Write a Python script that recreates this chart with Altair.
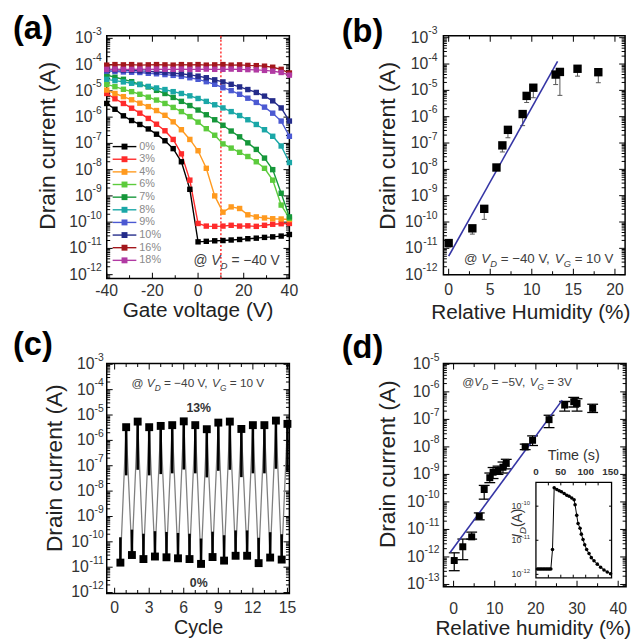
import math
import altair as alt
import pandas as pd

FONT = "Liberation Sans"
LABEL = "#333333"
TXT = "#404040"

# ---------------- (a) transfer curves: log10 of drain current ----------------
gate_voltage = [-40, -36.4, -32.7, -29.1, -25.5, -21.8, -18.2, -14.5, -10.9, -7.3, -3.6, 0,
                3.6, 7.3, 10.9, 14.5, 18.2, 21.8, 25.5, 29.1, 32.7, 36.4, 40]
rh_names = ["0%", "3%", "4%", "6%", "7%", "8%", "9%", "10%", "16%", "18%"]
rh_colors = ["#000000", "#ff2b2b", "#ff9a1f", "#5ccb3c", "#15973a", "#1aa7a7",
             "#4b59d2", "#242c8a", "#a3171c", "#b13aa3"]
log_id_00 = [-5.48, -5.70, -5.95, -6.13, -6.28, -6.45, -6.65, -6.90, -7.20, -7.70, -8.75, -10.75,
             -10.73, -10.71, -10.70, -10.68, -10.66, -10.63, -10.61, -10.58, -10.56, -10.53, -10.47]
log_id_03 = [-5.10, -5.30, -5.48, -5.66, -5.85, -6.05, -6.27, -6.52, -6.85, -7.40, -8.40, -10.05,
             -10.15, -10.16, -10.15, -10.12, -10.15, -10.14, -10.16, -10.12, -10.08, -10.06, -10.05]
log_id_04 = [-4.97, -5.10, -5.22, -5.34, -5.47, -5.60, -5.75, -5.93, -6.18, -6.48, -6.85, -7.28,
             -7.95, -9.00, -9.62, -9.42, -9.48, -9.72, -9.80, -9.84, -9.87, -9.88, -9.90]
log_id_06 = [-4.75, -4.84, -4.94, -5.03, -5.13, -5.24, -5.35, -5.48, -5.63, -5.79, -5.98, -6.19,
             -6.44, -6.69, -7.02, -7.18, -7.34, -7.50, -7.70, -7.95, -8.40, -9.35, -9.85]
log_id_07 = [-4.40, -4.48, -4.56, -4.65, -4.75, -4.85, -4.98, -5.10, -5.25, -5.40, -5.56, -5.73,
             -5.91, -6.10, -6.31, -6.53, -6.75, -6.98, -7.23, -7.56, -8.00, -8.90, -9.80]
log_id_08 = [-4.56, -4.61, -4.66, -4.71, -4.76, -4.83, -4.89, -4.95, -5.03, -5.10, -5.19, -5.29,
             -5.40, -5.53, -5.65, -5.79, -5.94, -6.10, -6.28, -6.48, -6.73, -7.10, -7.73]
log_id_09 = [-4.25, -4.26, -4.28, -4.29, -4.30, -4.33, -4.35, -4.38, -4.41, -4.45, -4.50, -4.56,
             -4.65, -4.75, -4.88, -4.99, -5.13, -5.28, -5.44, -5.62, -5.85, -6.15, -6.73]
log_id_10 = [-4.19, -4.20, -4.21, -4.22, -4.24, -4.25, -4.28, -4.30, -4.33, -4.35, -4.39, -4.44,
             -4.50, -4.58, -4.66, -4.75, -4.85, -4.95, -5.06, -5.20, -5.38, -5.65, -6.15]
log_id_16 = [-4.02, -4.00, -4.01, -4.00, -4.02, -4.01, -4.00, -4.01, -4.02, -4.00, -4.01, -4.00,
             -4.02, -4.01, -4.00, -4.02, -4.01, -4.03, -4.04, -4.06, -4.10, -4.18, -4.32]
log_id_18 = [-4.18, -4.17, -4.18, -4.18, -4.17, -4.18, -4.17, -4.18, -4.18, -4.17, -4.18, -4.18,
             -4.17, -4.18, -4.18, -4.17, -4.18, -4.19, -4.20, -4.22, -4.25, -4.30, -4.40]
marked_gate_voltage = [10]

# ---------------- (b) current vs humidity ----------------
rh_b = [0.0, 2.85, 4.28, 5.75, 6.46, 7.13, 8.9, 9.38, 10.18, 12.87, 13.38, 15.5, 18.0]
log_b = [-10.80, -10.24, -9.50, -7.93, -7.09, -6.50, -5.90, -5.21, -4.90, -4.40, -4.30, -4.18, -4.31]
log_b_low = [-10.95, -10.46, -9.90, -8.00, -7.34, -6.80, -6.34, -5.46, -5.28, -4.78, -5.19, -4.46, -4.71]
fit_b_x = [0.0, 13.1]
fit_b_log = [-11.3, -3.9]

# ---------------- (c) cycling ----------------
cycle_on = [1, 2, 3, 4, 5, 6, 7, 8, 9, 10, 11, 12, 13, 14, 15]
log_on = [-5.48, -5.26, -5.48, -5.43, -5.40, -5.25, -5.40, -5.56, -5.30, -5.26, -5.55, -5.40, -5.40, -5.22, -5.35]
cycle_off = [0.5, 1.5, 2.5, 3.5, 4.5, 5.5, 6.5, 7.5, 8.5, 9.5, 10.5, 11.5, 12.5, 13.5, 14.5]
log_off = [-10.82, -10.52, -10.68, -10.58, -10.61, -10.65, -10.68, -10.87, -10.60, -10.74, -10.55, -10.55, -10.84, -10.62, -10.70]

# ---------------- (d) current vs humidity at low bias ----------------
rh_d = [0.16, 2.24, 4.4, 6.24, 7.44, 8.8, 9.6, 10.8, 12.0, 12.8, 17.4, 19.2, 23.2, 27.0, 29.2, 30.0, 33.8]
log_d = [-12.13, -11.63, -11.27, -10.52, -9.55, -9.12, -8.92, -8.86, -8.74, -8.60, -8.00, -7.76, -7.01, -6.48, -6.36, -6.42, -6.60]
log_d_low = [-12.5, -12.1, -11.35, -10.65, -9.9, -9.3, -9.15, -9.0, -8.95, -8.8, -8.1, -7.95, -7.3, -6.7, -6.55, -6.7, -6.75]
log_d_high = [-11.85, -11.35, -11.1, -10.4, -9.4, -8.95, -8.75, -8.7, -8.55, -8.45, -7.9, -7.6, -6.85, -6.35, -6.2, -6.25, -6.45]
fit_d_x = [-0.8, 26.4]
fit_d_log = [-11.83, -6.3]

# inset: response transient
time_s = [3, 6, 9, 12, 15, 18, 21, 24, 27, 30, 33.3, 36.7, 42, 46.7, 51.3, 56.7, 62, 66.7, 72, 76.7,
          78.7, 82, 84.7, 88.7, 91.3, 94.7, 98, 102, 106.7, 111.3, 116.7, 123.3, 130, 136.7, 143.3, 150]
log_inset = [-11.84, -11.84, -11.84, -11.84, -11.84, -11.84, -11.84, -11.84, -11.84, -11.84, -11.27,
             -9.46, -9.51, -9.55, -9.58, -9.63, -9.68, -9.71, -9.76, -9.81, -9.96, -10.27, -10.51,
             -10.65, -10.82, -10.98, -11.13, -11.27, -11.39, -11.51, -11.60, -11.70, -11.79, -11.87,
             -11.93, -11.98]

# ---------------- helpers ----------------
AW = {" ": 0.278, "@": 1.015, "V": 0.667, "D": 0.722, "G": 0.778, "=": 0.584, "−": 0.584,
      "-": 0.333, ",": 0.278, "%": 0.889, "I": 0.278, "(": 0.333, ")": 0.333, "A": 0.667}


def tw(s):
    return sum(AW.get(c, 0.556) for c in s)


def decade_exps(lo, hi):
    return list(range(math.ceil(lo - 1e-9), math.floor(hi + 1e-9) + 1))


def log_minor(lo, hi):
    out = []
    for n in range(math.floor(lo), math.ceil(hi) + 1):
        for k in range(2, 10):
            v = k * 10.0 ** n
            if lo < math.log10(v) < hi:
                out.append(v)
    return out


ONE = pd.DataFrame({"k": [0]})


def ptext(txt, x, y, size, angle=None, weight="normal", align="center", baseline="middle", color="#222222",
          style="normal"):
    kw = dict(text=txt, align=align, baseline=baseline, font=FONT, fontSize=size, fontWeight=weight,
              color=color, fontStyle=style)
    if angle is not None:
        kw["angle"] = angle
    return alt.Chart(ONE).mark_text(**kw).encode(x=alt.value(x), y=alt.value(y))


def ylabels(ys, exps, xr, fs=16, fe=10.5, rise=6.5):
    layers = []
    d = pd.DataFrame({"v": [10.0 ** e for e in exps], "e": [str(e) for e in exps]})
    layers.append(alt.Chart(d).mark_text(align="right", baseline="middle", fontSize=fe, font=FONT, color=LABEL,
                                         dy=-rise).encode(
        y=alt.Y("v:Q", scale=ys, axis=None), x=alt.value(xr), text="e:N"))
    for nd in (1, 2):
        sub = [e for e in exps if len(str(-e)) == nd]
        if not sub:
            continue
        w = tw("-" + "0" * nd) * fe
        d2 = pd.DataFrame({"v": [10.0 ** e for e in sub]})
        layers.append(alt.Chart(d2).mark_text(text="10", align="right", baseline="middle", fontSize=fs, font=FONT,
                                              color=LABEL).encode(
            y=alt.Y("v:Q", scale=ys, axis=None), x=alt.value(xr - w)))
    return layers


def xlabels(xs, vals, yc, fs=16, weight="normal"):
    d = pd.DataFrame({"v": vals, "t": [str(int(v)) if float(v).is_integer() else str(v) for v in vals]})
    return alt.Chart(d).mark_text(align="center", baseline="middle", fontSize=fs, font=FONT, color=LABEL,
                                  fontWeight=weight).encode(
        x=alt.X("v:Q", scale=xs, axis=None), y=alt.value(yc), text="t:N")


def frame_ticks(xs, ys, xmaj, xmin, ymaj, ymin, w, h):
    out = []
    for vals, L in ((ymaj, 6), (ymin, 3.5)):
        d = pd.DataFrame({"v": vals})
        for xp in (L / 2, w - L / 2):
            out.append(alt.Chart(d).mark_tick(orient="horizontal", size=L, thickness=1, color="black", opacity=1)
                       .encode(y=alt.Y("v:Q", scale=ys, axis=None), x=alt.value(xp)))
    for vals, L in ((xmaj, 6), (xmin, 3.5)):
        d = pd.DataFrame({"v": vals})
        for yp in (h - L / 2, L / 2):
            out.append(alt.Chart(d).mark_tick(orient="vertical", size=L, thickness=1, color="black", opacity=1)
                       .encode(x=alt.X("v:Q", scale=xs, axis=None), y=alt.value(yp)))
    return out


def annotate(x, y, segs, size, xs, ys, color=TXT, weight="normal", angle=None, center=False):
    layers = []
    d = pd.DataFrame({"x": [x], "y": [y]})
    total = sum(tw(t) * (size * 0.7 if k == "sub" else size) for t, k in segs)
    off = -total / 2 if center else 0
    for t, k in segs:
        fs = size * 0.7 if k == "sub" else size
        lead = len(t) - len(t.lstrip(" "))
        kw = dict(text=t.strip(), align="left", baseline="alphabetic", font=FONT, fontSize=fs,
                  fontStyle="italic" if k in ("i", "sub") else "normal", fontWeight=weight, color=color,
                  dx=off + lead * AW[" "] * fs, dy=size * 0.3 if k == "sub" else 0)
        if angle is not None:
            kw["angle"] = angle
        layers.append(alt.Chart(d).mark_text(**kw).encode(
            x=alt.X("x:Q", scale=xs, axis=None), y=alt.Y("y:Q", scale=ys, axis=None)))
        off += tw(t) * fs
    return layers


def letter(txt, x, y):
    return ptext(txt, x, y, 33, weight="bold", align="left", baseline="top", color="black")


COND = [("@ ", "n"), ("V", "i"), ("D", "sub"), (" = −40 V, ", "n"), ("V", "i"), ("G", "sub"), (" = 10 V", "n")]
YTITLE = "Drain current (A)"

# ======================= panel (a) =======================
W_A, H_A = 185, 246
YA = (-12.15, -2.9)
xa = alt.Scale(domain=[-40, 40], nice=False, zero=False)
ya = alt.Scale(type="log", domain=[10 ** YA[0], 10 ** YA[1]], nice=False)
series_a = [log_id_00, log_id_03, log_id_04, log_id_06, log_id_07, log_id_08, log_id_09, log_id_10,
            log_id_16, log_id_18]
rows = []
for name, ser in zip(rh_names, series_a):
    for v, l in zip(gate_voltage, ser):
        rows.append({"V": v, "I": 10 ** l, "RH": name})
df_a = pd.DataFrame(rows)
cs = alt.Scale(domain=rh_names, range=rh_colors)
lines_a = alt.Chart(df_a).mark_line(strokeWidth=1.4).encode(
    x=alt.X("V:Q", scale=xa, axis=None), y=alt.Y("I:Q", scale=ya, axis=None),
    color=alt.Color("RH:N", scale=cs, legend=None))
pts_a = alt.Chart(df_a).mark_point(shape="square", filled=True, size=30, opacity=1).encode(
    x=alt.X("V:Q", scale=xa, axis=None), y=alt.Y("I:Q", scale=ya, axis=None),
    color=alt.Color("RH:N", scale=cs, legend=None))
rule_a = alt.Chart(pd.DataFrame({"v": marked_gate_voltage})).mark_rule(
    color="#ff3030", strokeDash=[2, 2], strokeWidth=1.5).encode(x=alt.X("v:Q", scale=xa, axis=None))
ann_a = annotate(-2.0, 10 ** -11.62, [("@ ", "n"), ("V", "i"), ("D", "sub"), (" = −40 V", "n")], 14, xa, ya)
ticks_a = frame_ticks(xa, ya, [-40, -20, 0, 20, 40], [-30, -10, 10, 30],
                      [10.0 ** e for e in decade_exps(*YA)], log_minor(*YA), W_A, H_A)
guides_a = ylabels(ya, decade_exps(-12, -3), -5) + [
    xlabels(xa, [-40, -20, 0, 20, 40], H_A + 13),
    ptext("Gate voltage (V)", W_A / 2, H_A + 33, 21),
    ptext(YTITLE, -59, 111.5, 23, angle=270),
    letter("(a)", -95, -23),
]
main_a = alt.layer(*ticks_a, rule_a, lines_a, pts_a, *ann_a, *guides_a)

# legend drawn in a pixel-identity frame
leg_df = pd.DataFrame({"name": rh_names, "col": rh_colors, "y": [112.3 + 12.8 * i for i in range(10)],
                       "x0": [6] * 10, "x1": [30] * 10, "xs": [18] * 10, "xt": [33] * 10})
px = alt.Scale(domain=[0, W_A], range=[0, W_A], nice=False, zero=False)
py = alt.Scale(domain=[0, H_A], range=[0, H_A], nice=False, zero=False)
leg_line = alt.Chart(leg_df).mark_rule(strokeWidth=1.4).encode(
    x=alt.X("x0:Q", scale=px, axis=None), x2="x1:Q", y=alt.Y("y:Q", scale=py, axis=None),
    color=alt.Color("col:N", scale=None))
leg_sq = alt.Chart(leg_df).mark_point(shape="square", filled=True, size=36, opacity=1).encode(
    x=alt.X("xs:Q", scale=px, axis=None), y=alt.Y("y:Q", scale=py, axis=None),
    color=alt.Color("col:N", scale=None))
leg_tx = alt.Chart(leg_df).mark_text(align="left", baseline="middle", fontSize=11, font=FONT,
                                     color="#8a8a8a").encode(
    x=alt.X("xt:Q", scale=px, axis=None), y=alt.Y("y:Q", scale=py, axis=None), text="name:N")
legend_a = alt.layer(leg_line, leg_sq, leg_tx)
panel_a = alt.layer(main_a, legend_a).resolve_scale(x="independent", y="independent").properties(
    width=W_A, height=H_A)

# ======================= panel (b) =======================
W_B, H_B = 184, 242
YB = (-12.0, -2.925)
xb = alt.Scale(domain=[-0.63, 21.22], nice=False, zero=False)
yb = alt.Scale(type="log", domain=[10 ** YB[0], 10 ** YB[1]], nice=False)
df_b = pd.DataFrame({"rh": rh_b, "I": [10 ** v for v in log_b], "lo": [10 ** v for v in log_b_low]})
df_fb = pd.DataFrame({"rh": fit_b_x, "I": [10 ** v for v in fit_b_log]})
err_b = alt.Chart(df_b).mark_rule(color="#555555", strokeWidth=1).encode(
    x=alt.X("rh:Q", scale=xb, axis=None), y=alt.Y("lo:Q", scale=yb, axis=None), y2="I:Q")
cap_b = alt.Chart(df_b).mark_tick(orient="horizontal", size=5, thickness=1, color="#555555", opacity=1).encode(
    x=alt.X("rh:Q", scale=xb, axis=None), y=alt.Y("lo:Q", scale=yb, axis=None))
pts_b = alt.Chart(df_b).mark_point(shape="square", filled=True, size=72, opacity=1, color="black").encode(
    x=alt.X("rh:Q", scale=xb, axis=None), y=alt.Y("I:Q", scale=yb, axis=None))
fit_b = alt.Chart(df_fb).mark_line(color="#3535a5", strokeWidth=1.6).encode(
    x=alt.X("rh:Q", scale=xb, axis=None), y=alt.Y("I:Q", scale=yb, axis=None))
ann_b = annotate(1.86, 10 ** -11.54, COND, 13.5, xb, yb)
ticks_b = frame_ticks(xb, yb, [0, 5, 10, 15, 20], [2.5, 7.5, 12.5, 17.5],
                      [10.0 ** e for e in decade_exps(*YB)], log_minor(*YB), W_B, H_B)
guides_b = ylabels(yb, decade_exps(-12, -3), -6) + [
    xlabels(xb, [0, 5, 10, 15, 20], H_B + 16),
    ptext("Relative Humidity (%)", 88.5, H_B + 39, 21),
    ptext(YTITLE, -56, 111.5, 23, angle=270),
    letter("(b)", -103, -20),
]
panel_b = alt.layer(*ticks_b, err_b, cap_b, fit_b, pts_b, *ann_b, *guides_b).properties(width=W_B, height=H_B)

# ======================= panel (c) =======================
W_C, H_C = 185, 233
YC = (-12.04, -2.97)
xc = alt.Scale(domain=[-0.686, 15.17], nice=False, zero=False)
yc = alt.Scale(type="log", domain=[10 ** YC[0], 10 ** YC[1]], nice=False)
seq = []
for i in range(len(cycle_on)):
    seq.append({"c": cycle_off[i], "I": 10 ** log_off[i], "o": 2 * i})
    seq.append({"c": cycle_on[i], "I": 10 ** log_on[i], "o": 2 * i + 1})
df_c = pd.DataFrame(seq)
STEM_ON, STEM_OFF = 1.9, 1.0
df_on = pd.DataFrame({"c": cycle_on, "I": [10 ** v for v in log_on], "e": [10 ** (v - STEM_ON) for v in log_on]})
df_off = pd.DataFrame({"c": cycle_off, "I": [10 ** v for v in log_off],
                       "e": [10 ** (v + STEM_OFF) for v in log_off]})
line_c = alt.Chart(df_c).mark_line(color="#808080", strokeWidth=1.3).encode(
    x=alt.X("c:Q", scale=xc, axis=None), y=alt.Y("I:Q", scale=yc, axis=None), order="o:Q")
stems_c = [alt.Chart(d).mark_rule(color="black", strokeWidth=2.6).encode(
    x=alt.X("c:Q", scale=xc, axis=None), y=alt.Y("I:Q", scale=yc, axis=None), y2="e:Q") for d in (df_on, df_off)]
pts_c = [alt.Chart(d).mark_point(shape="square", filled=True, size=64, opacity=1, color="black").encode(
    x=alt.X("c:Q", scale=xc, axis=None), y=alt.Y("I:Q", scale=yc, axis=None)) for d in (df_on, df_off)]
ann_c = annotate(1.46, 10 ** -3.9, COND, 12, xc, yc)
lab_on = annotate(7.3, 10 ** -4.9, [("13%", "n")], 12.5, xc, yc, color="#333333", weight="bold", center=True)
lab_off = annotate(7.3, 10 ** -11.8, [("0%", "n")], 12.5, xc, yc, color="#333333", weight="bold", center=True)
ticks_c = frame_ticks(xc, yc, [0, 3, 6, 9, 12, 15], [1, 2, 4, 5, 7, 8, 10, 11, 13, 14],
                      [10.0 ** e for e in decade_exps(*YC)], log_minor(*YC), W_C, H_C)
guides_c = ylabels(yc, decade_exps(-12, -3), -3) + [
    xlabels(xc, [0, 3, 6, 9, 12, 15], H_C + 15),
    ptext("Cycle", 93, H_C + 35, 20),
    ptext(YTITLE, -52, 106, 23, angle=270),
    letter("(c)", -95, -35),
]
panel_c = alt.layer(*ticks_c, line_c, *stems_c, *pts_c, *ann_c, *lab_on, *lab_off, *guides_c).properties(
    width=W_C, height=H_C)

# ======================= panel (d) =======================
W_D, H_D = 185, 226
YD = (-13.08, -4.97)
xd = alt.Scale(domain=[-2.47, 41.92], nice=False, zero=False)
yd = alt.Scale(type="log", domain=[10 ** YD[0], 10 ** YD[1]], nice=False)
df_d = pd.DataFrame({"rh": rh_d, "I": [10 ** v for v in log_d], "lo": [10 ** v for v in log_d_low],
                     "hi": [10 ** v for v in log_d_high]})
df_fd = pd.DataFrame({"rh": fit_d_x, "I": [10 ** v for v in fit_d_log]})
err_d = alt.Chart(df_d).mark_rule(color="black", strokeWidth=1.2).encode(
    x=alt.X("rh:Q", scale=xd, axis=None), y=alt.Y("lo:Q", scale=yd, axis=None), y2="hi:Q")
caps_d = [alt.Chart(df_d).mark_tick(orient="horizontal", size=11, thickness=1.3, color="black", opacity=1).encode(
    x=alt.X("rh:Q", scale=xd, axis=None), y=alt.Y(f"{f}:Q", scale=yd, axis=None)) for f in ("lo", "hi")]
pts_d = alt.Chart(df_d).mark_point(shape="square", filled=True, size=50, opacity=1, color="black").encode(
    x=alt.X("rh:Q", scale=xd, axis=None), y=alt.Y("I:Q", scale=yd, axis=None))
fit_d = alt.Chart(df_fd).mark_line(color="#3535a5", strokeWidth=1.6).encode(
    x=alt.X("rh:Q", scale=xd, axis=None), y=alt.Y("I:Q", scale=yd, axis=None))
ann_d = annotate(2.1, 10 ** -5.79, [("@", "n"), ("V", "i"), ("D", "sub"), (" = −5V, ", "n"), ("V", "i"),
                                     ("G", "sub"), (" = 3V", "n")], 12, xd, yd)
ticks_d = frame_ticks(xd, yd, [0, 10, 20, 30, 40], [5, 15, 25, 35],
                      [10.0 ** e for e in decade_exps(*YD)], log_minor(*YD), W_D, H_D)
guides_d = ylabels(yd, decade_exps(-13, -5), -4) + [
    xlabels(xd, [0, 10, 20, 30, 40], H_D + 23),
    ptext("Relative humidity (%)", 91, H_D + 43, 21),
    ptext(YTITLE, -56, 102, 23, angle=270),
    letter("(d)", -103, -32),
]
main_d = alt.layer(*ticks_d, err_d, *caps_d, fit_d, pts_d, *ann_d, *guides_d)

# inset
YI = (-12.1, -9.3)
XI = (0, 152)
IX0, IX1, IY0, IY1 = 93.7, 170.3, 217, 120.3
xi = alt.Scale(domain=list(XI), range=[IX0, IX1], nice=False, zero=False)
yi = alt.Scale(type="log", domain=[10 ** YI[0], 10 ** YI[1]], range=[IY0, IY1], nice=False)
df_box = pd.DataFrame({"x0": [XI[0]], "x1": [XI[1]], "y0": [10 ** YI[0]], "y1": [10 ** YI[1]]})
box_i = alt.Chart(df_box).mark_rect(fill="white", stroke="black", strokeWidth=1.3).encode(
    x=alt.X("x0:Q", scale=xi, axis=None), x2="x1:Q", y=alt.Y("y0:Q", scale=yi, axis=None), y2="y1:Q")
df_i = pd.DataFrame({"t": time_s, "I": [10 ** v for v in log_inset]})
line_i = alt.Chart(df_i).mark_line(color="black", strokeWidth=1).encode(
    x=alt.X("t:Q", scale=xi, axis=None), y=alt.Y("I:Q", scale=yi, axis=None))
pts_i = alt.Chart(df_i).mark_point(shape="circle", filled=True, size=13, opacity=1, color="black").encode(
    x=alt.X("t:Q", scale=xi, axis=None), y=alt.Y("I:Q", scale=yi, axis=None))
TL = 5
tk_rows = []
for e in decade_exps(*YI):
    tk_rows.append({"x": XI[0], "x2": XI[0] + TL, "y": 10.0 ** e, "y2": 10.0 ** e})
    tk_rows.append({"x": XI[1] - TL, "x2": XI[1], "y": 10.0 ** e, "y2": 10.0 ** e})
for v in [25, 50, 75, 100, 125]:
    tk_rows.append({"x": v, "x2": v, "y": 10 ** YI[0], "y2": 10 ** (YI[0] + 0.09)})
    tk_rows.append({"x": v, "x2": v, "y": 10 ** (YI[1] - 0.09), "y2": 10 ** YI[1]})
tick_i = alt.Chart(pd.DataFrame(tk_rows)).mark_rule(color="black", strokeWidth=1).encode(
    x=alt.X("x:Q", scale=xi, axis=None), x2="x2:Q", y=alt.Y("y:Q", scale=yi, axis=None), y2="y2:Q")
lab_i = annotate(-28, 10 ** -10.5, [("I", "i"), ("D", "sub"), ("(A)", "n")], 14, xi, yi, color="#333333",
                 angle=270, center=True)
guides_i = ylabels(yi, decade_exps(*YI), IX0 - 6, fs=9, fe=6, rise=3.5) + [
    xlabels(xi, [0, 50, 100, 150], IY1 - 10.5, fs=10, weight="bold"),
    ptext("Time (s)", 132, 94, 14.5, color="#333333"),
]
inset = alt.layer(box_i, tick_i, line_i, pts_i, *lab_i, *guides_i)

panel_d = alt.layer(main_d, inset).resolve_scale(x="independent", y="independent").properties(
    width=W_D, height=H_D)

chart = alt.concat(panel_a, panel_b, panel_c, panel_d, columns=2, spacing={"row": 86, "column": 156},
                   bounds="flush").properties(
    padding={"left": 4, "top": 0, "right": 0, "bottom": 0}
).configure_view(stroke="black", strokeWidth=1.5)

chart.save("out.html", embed_options={"renderer": "svg", "actions": False})
